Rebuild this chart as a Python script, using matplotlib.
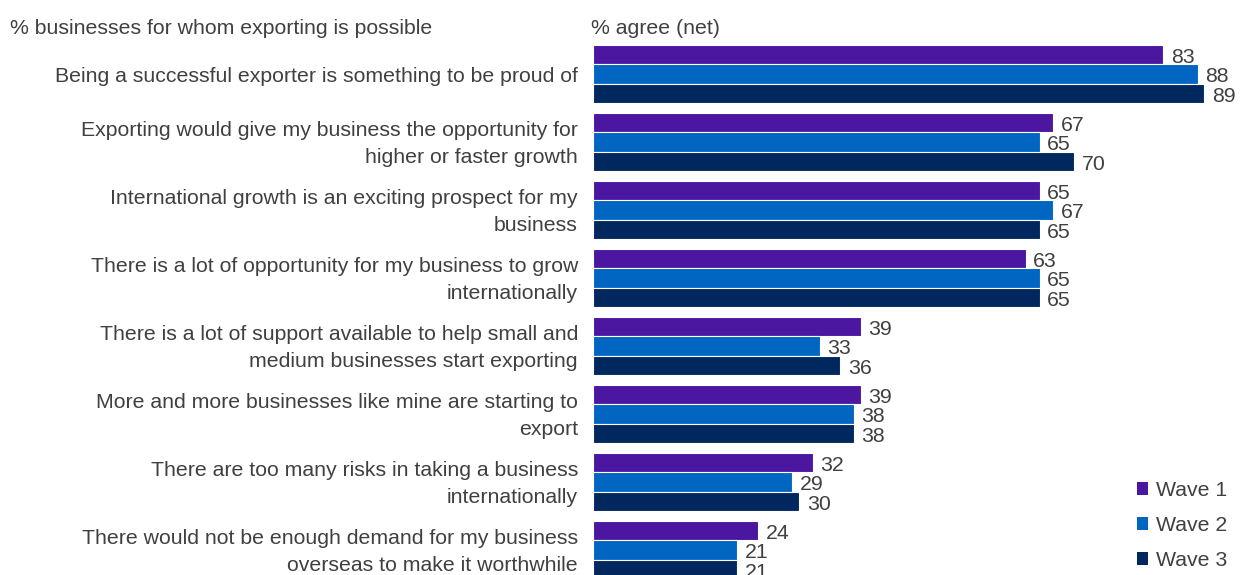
import matplotlib
matplotlib.use("Agg")
import matplotlib.pyplot as plt
from matplotlib.patches import Patch
import numpy as np

plt.rcParams['font.family'] = ['Liberation Sans', 'DejaVu Sans']

categories = [
    "Being a successful exporter is something to be proud of",
    "Exporting would give my business the opportunity for\nhigher or faster growth",
    "International growth is an exciting prospect for my\nbusiness",
    "There is a lot of opportunity for my business to grow\ninternationally",
    "There is a lot of support available to help small and\nmedium businesses start exporting",
    "More and more businesses like mine are starting to\nexport",
    "There are too many risks in taking a business\ninternationally",
    "There would not be enough demand for my business\noverseas to make it worthwhile",
]
series_names = ["Wave 1", "Wave 2", "Wave 3"]
wave1 = [83, 67, 65, 63, 39, 39, 32, 24]
wave2 = [88, 65, 67, 65, 33, 38, 29, 21]
wave3 = [89, 70, 65, 65, 36, 38, 30, 21]
colors = ["#4B16A0", "#0066C2", "#00285F"]

W, H = 1240, 575
FS = 15.3
fig = plt.figure(figsize=(W/100, H/100), dpi=100)
ax_left, ax_right = 593, 1239
ax_top, ax_bot = 40, 575
ax = fig.add_axes([ax_left/W, 1-ax_bot/H, (ax_right-ax_left)/W, (ax_bot-ax_top)/H])

pitch = 68.0
y = np.arange(len(categories))
bh = 19.4/pitch
offsets = [-bh, 0, bh]
tc = "#404040"
for vals, off, c in zip([wave1, wave2, wave3], offsets, colors):
    ax.barh(y + off, vals, height=bh, color=c, edgecolor="white", linewidth=0.8)
    for yi, v in zip(y, vals):
        ax.text(v + 1.1, yi + off + 0.04, f"{v}", va="center", ha="left",
                fontsize=FS, color=tc)

ax.set_xlim(0, (ax_right-ax_left)/6.87)
ax.set_ylim((575-74)/pitch, (40-74)/pitch)
ax.axis("off")

for yi, lab in zip(y, categories):
    ax.text(-2.2, yi + 0.03, lab, ha="right", va="center", fontsize=FS, color=tc,
            linespacing=1.52, clip_on=False)

fig.text(10/W, 1-28/H, "% businesses for whom exporting is possible", ha="left",
         va="center", fontsize=FS, color=tc)
fig.text(591/W, 1-28/H, "% agree (net)", ha="left", va="center",
         fontsize=FS, color=tc)

handles = [Patch(facecolor=c, edgecolor="none") for c in colors]
leg = fig.legend(handles, series_names, loc="lower left",
                 bbox_to_anchor=(1124/W, 1-583/H), frameon=False,
                 fontsize=FS, handlelength=0.55, handleheight=0.55,
                 handletextpad=0.35, labelspacing=0.76, borderaxespad=0.2)
for t in leg.get_texts():
    t.set_color(tc)

fig.savefig("out.png", dpi=100)
